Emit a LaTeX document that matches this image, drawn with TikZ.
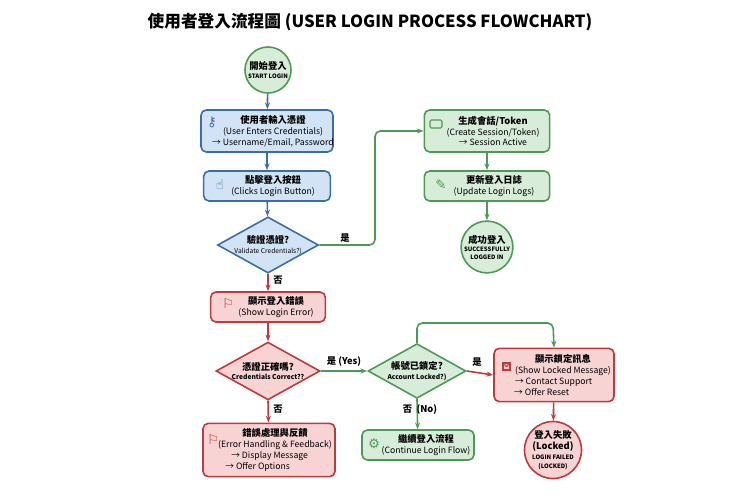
\documentclass[tikz,border=0pt]{standalone}
\usepackage{fontspec}
\setmainfont{Noto Sans CJK TC}
\newfontfamily\sym{DejaVu Sans}
\usetikzlibrary{shapes.geometric,arrows.meta}
\definecolor{bF}{HTML}{D3E3F6}\definecolor{bS}{HTML}{3D6DA6}
\definecolor{gF}{HTML}{D8EDD9}\definecolor{gS}{HTML}{4E9A55}
\definecolor{rF}{HTML}{F7D3D3}\definecolor{rS}{HTML}{C0393B}
\newcommand{\tny}{\fontsize{4.5}{5}\selectfont\bfseries}
\newcommand{\smalld}{\fontsize{5}{6}\selectfont}
\begin{document}
\begin{tikzpicture}[x=0.75pt,y=-0.75pt,
 box/.style={draw,line width=1.2pt,rounded corners=4pt,align=center,inner sep=0pt},
 B/.style={box,fill=bF,draw=bS},G/.style={box,fill=gF,draw=gS},R/.style={box,fill=rF,draw=rS},
 tx/.style={align=center,font=\fontsize{6.5}{8.2}\selectfont,inner sep=0pt},
 dia/.style={diamond,draw,line width=1.2pt,aspect=1.8,inner sep=0pt,align=center,font=\fontsize{7}{8}\selectfont},
 circ/.style={circle,draw,line width=1.2pt,align=center,inner sep=0pt,font=\fontsize{7}{7.5}\selectfont},
 ar/.style={-{Stealth[length=5pt]},line width=1.2pt},
 lab/.style={font=\fontsize{7}{8}\selectfont\bfseries},
 ic/.style={font=\sym\fontsize{10}{10}\selectfont}]
\useasboundingbox (0,0) rectangle (740,496);
\node[font=\fontsize{12.5}{14}\selectfont\bfseries] (title) at (370,22) {使用者登入流程圖 (USER LOGIN PROCESS FLOWCHART)};
% nodes
\node[circ,fill=gF,draw=gS,minimum size=34.5pt] (start) at (268,70) {\textbf{開始登入}\\[-1pt]\tny START LOGIN};
\node[B,minimum width=99pt,minimum height=31.5pt] (b1) at (267,131) {};
\node[tx] (t1) at (273,131) {\textbf{\fontsize{7}{8.2}\selectfont 使用者輸入憑證}\\(User Enters Credentials)\\→ Username/Email, Password};
\node[ic,text=bS] (i1) at (212,122) {⚷};
\node[B,minimum width=95pt,minimum height=22.5pt] (b2) at (267,186) {};
\node[tx] (t2) at (273,186) {\textbf{\fontsize{7}{8.2}\selectfont 點擊登入按鈕}\\(Clicks Login Button)};
\node[ic,text=bS] (i2) at (220,185) {☝};
\node[dia,fill=bF,draw=bS,minimum width=73.5pt,minimum height=39pt] (d1) at (268,245) {\textbf{驗證憑證?}\\[-1pt]\smalld Validate Credentials?)};
\node[G,minimum width=94pt,minimum height=31.5pt] (b3) at (487,131) {};
\node[tx] (t3) at (493,131) {\textbf{\fontsize{7}{8.2}\selectfont 生成會話/Token}\\(Create Session/Token)\\→ Session Active};
\node[draw=gS,line width=0.8pt,rounded corners=1pt,minimum width=9pt,minimum height=6pt,inner sep=0] (i3) at (436,124) {};
\node[G,minimum width=94pt,minimum height=22.5pt] (b4) at (487,186) {};
\node[tx] (t4) at (494,186) {\textbf{\fontsize{7}{8.2}\selectfont 更新登入日誌}\\(Update Login Logs)};
\node[ic,text=gS] (i4) at (441,185) {✎};
\node[circ,fill=gF,draw=gS,minimum size=37.5pt] (succ) at (487,247) {\textbf{成功登入}\\[-1pt]\tny SUCCESSFULLY\\[-2pt]\tny LOGGED IN};
\node[R,minimum width=86pt,minimum height=22.5pt] (b5) at (268,307) {};
\node[tx] (t5) at (276,307) {\textbf{\fontsize{7}{8.2}\selectfont 顯示登入錯誤}\\(Show Login Error)};
\node[ic,text=rS] (i5) at (228,304) {⚐};
\node[dia,fill=rF,draw=rS,minimum width=73.5pt,minimum height=41pt] (d2) at (268,371) {\textbf{憑證正確嗎?}\\[-1pt]\smalld\bfseries Credentials Correct??};
\node[R,minimum width=99pt,minimum height=40pt] (b6) at (269,450) {};
\node[tx] (t6) at (275,450) {\textbf{\fontsize{7}{8.2}\selectfont 錯誤處理與反饋}\\(Error Handling \& Feedback)\\\hspace*{-8pt}→ Display Message\\\hspace*{-26pt}→ Offer Options};
\node[ic,text=rS] (i6) at (213,440) {⚐};
\node[dia,fill=gF,draw=gS,minimum width=73.5pt,minimum height=41pt] (d3) at (417,371) {\textbf{帳號已鎖定?}\\[-1pt]\smalld\bfseries Account Locked?)};
\node[R,minimum width=90pt,minimum height=40pt] (b7) at (554,375) {};
\node[tx] (t7) at (563,375) {\textbf{\fontsize{7}{8.2}\selectfont 顯示鎖定訊息}\\(Show Locked Message)\\\hspace*{-14pt}→ Contact Support\\\hspace*{-32pt}→ Offer Reset};
\draw[rS,line width=0.8pt] (503,363) rectangle (510,370);
\draw[rS,line width=0.8pt] (504.5,363) arc (180:0:2 and 3.5);
\node[G,minimum width=84pt,minimum height=22.5pt] (b8) at (418,445) {};
\node[tx] (t8) at (426,445) {\textbf{\fontsize{7}{8.2}\selectfont 繼續登入流程}\\(Continue Login Flow)};
\node[ic,text=gS] (i8) at (374,444) {⚙};
\node[circ,fill=rF,draw=rS,minimum size=41pt] (fail) at (553,450) {\textbf{登入失敗}\\[1pt]\textbf{(Locked)}\\[0pt]\tny LOGIN FAILED\\[-1pt]\tny (LOCKED)};
% connectors
\coordinate (c1) at (375,245); \coordinate (c2) at (375,131);
\coordinate (c3) at (417,323); \coordinate (c4) at (553,323);
\draw[ar,bS] (start) -- (b1);
\draw[ar,bS] (b1) -- (b2);
\draw[ar,bS] (b2) -- (d1);
\draw[ar,gS,rounded corners=4pt] (d1.east) -- (c1) -- (c2) -- (b3.west);
\node[lab] at (345,238) {是};
\draw[ar,gS] (b3) -- (b4);
\draw[ar,gS] (b4) -- (succ);
\draw[ar,rS] (d1.south) -- (b5);
\node[lab] at (278,280) {否};
\draw[ar,rS] (b5) -- (d2);
\draw[ar,rS] (d2.south) -- (b6);
\node[lab] at (278,409) {否};
\draw[ar,gS] (d2.east) -- (d3.west);
\node[lab] at (344,362) {是 (Yes)};
\draw[ar,gS,rounded corners=4pt] (d3.north) -- (c3) -- (c4) -- (b7.north);
\draw[ar,rS] (d3.east) -- (b7.west);
\node[lab] at (477,362) {是};
\draw[ar,gS] (d3.south) -- (b8);
\node[lab] at (420,410) {否 \ (No)};
\draw[ar,rS] (b7) -- (fail);
\end{tikzpicture}
\end{document}
